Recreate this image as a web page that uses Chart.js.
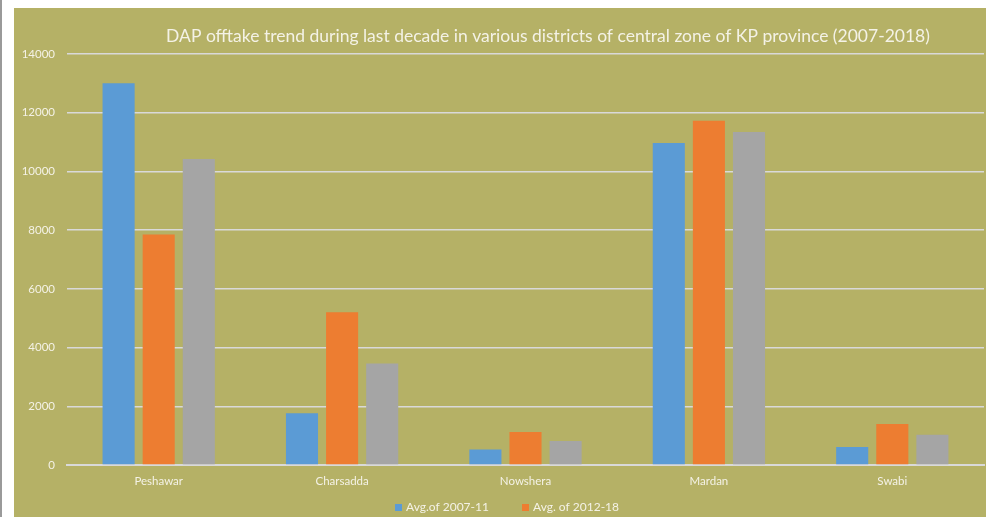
<!DOCTYPE html>
<html>
<head>
<meta charset="utf-8">
<script src="https://cdn.jsdelivr.net/npm/chart.js@4.4.0/dist/chart.umd.min.js"></script>
<style>
html,body{margin:0;padding:0;background:#fff;}
#wrap{position:relative;width:986px;height:517px;}
canvas{display:block;}
</style>
</head>
<body>
<div id="wrap"><canvas id="c" width="986" height="517"></canvas></div>
<script>
const categories = ["Peshawar", "Charsadda", "Nowshera", "Mardan", "Swabi"];
const seriesLabels = ["Avg.of 2007-11", "Avg. of 2012-18", "Avg. of 2007-18"];
const avg2007_11 = [13000, 1760, 530, 10970, 610];
const avg2012_18 = [7850, 5200, 1120, 11730, 1400];
const avg2007_18 = [10420, 3460, 815, 11340, 1030];
const yTicks = [0, 2000, 4000, 6000, 8000, 10000, 12000, 14000];
const titleText = "DAP offtake trend during last decade in various districts of central zone of KP province (2007-2018)";
const colors = ["#5b9bd5", "#ed7d31", "#a5a5a5"];

const FONT = "Lato, 'Open Sans', sans-serif";
const OLIVE = "#b5b166";
const TXT = "#f4f2e6";

const bgPlugin = {
  id: 'bg',
  beforeDraw(chart) {
    const ctx = chart.ctx;
    ctx.save();
    ctx.fillStyle = "#ffffff";
    ctx.fillRect(0, 0, chart.width, chart.height);
    ctx.fillStyle = "#9a9a9a";
    ctx.fillRect(0, 0, 2, chart.height);
    ctx.fillStyle = OLIVE;
    ctx.fillRect(14, 8, chart.width - 14, chart.height - 8);
    ctx.restore();
  },
  afterDraw(chart) {
    const ctx = chart.ctx;
    ctx.save();
    // title
    ctx.fillStyle = TXT;
    ctx.font = "17.5px " + FONT;
    ctx.textAlign = 'center';
    ctx.textBaseline = 'middle';
    ctx.fillText(titleText, 548, 36);
    // legend (first two series only, as in the original)
    ctx.font = "12px " + FONT;
    ctx.textAlign = 'left';
    const lx = [395, 522];
    for (let i = 0; i < 2; i++) {
      ctx.fillStyle = chart.data.datasets[i].backgroundColor;
      ctx.fillRect(lx[i], 504, 7, 7);
      ctx.fillStyle = TXT;
      ctx.fillText(chart.data.datasets[i].label, lx[i] + 11, 507.5);
    }
    ctx.restore();
  }
};

new Chart(document.getElementById('c'), {
  type: 'bar',
  data: {
    labels: categories,
    datasets: [
      {label: seriesLabels[0], data: avg2007_11, backgroundColor: colors[0]},
      {label: seriesLabels[1], data: avg2012_18, backgroundColor: colors[1]},
      {label: seriesLabels[2], data: avg2007_18, backgroundColor: colors[2]}
    ]
  },
  options: {
    responsive: false,
    animation: false,
    layout: {padding: {left: 0, right: 2, top: 54, bottom: 0}},
    datasets: {bar: {categoryPercentage: 0.656, barPercentage: 0.8}},
    plugins: {
      title: {display: false},
      legend: {display: false},
      tooltip: {enabled: false}
    },
    scales: {
      x: {
        grid: {display: false, drawTicks: false},
        border: {display: true, color: "#d9d9d9", width: 2},
        ticks: {color: TXT, font: {family: FONT, size: 11.5}, padding: 9},
        afterFit: (s) => { s.height = 52; }
      },
      y: {
        min: 0, max: 14000,
        afterBuildTicks: (s) => { s.ticks = yTicks.map(v => ({value: v})); },
        afterFit: (s) => { s.width = 67; },
        grid: {color: "#d9d9d9", lineWidth: 1.5, drawTicks: false},
        border: {display: false},
        ticks: {color: TXT, font: {family: FONT, size: 11.5}, padding: 12, callback: (v) => String(v)}
      }
    }
  },
  plugins: [bgPlugin]
});
</script>
</body>
</html>
